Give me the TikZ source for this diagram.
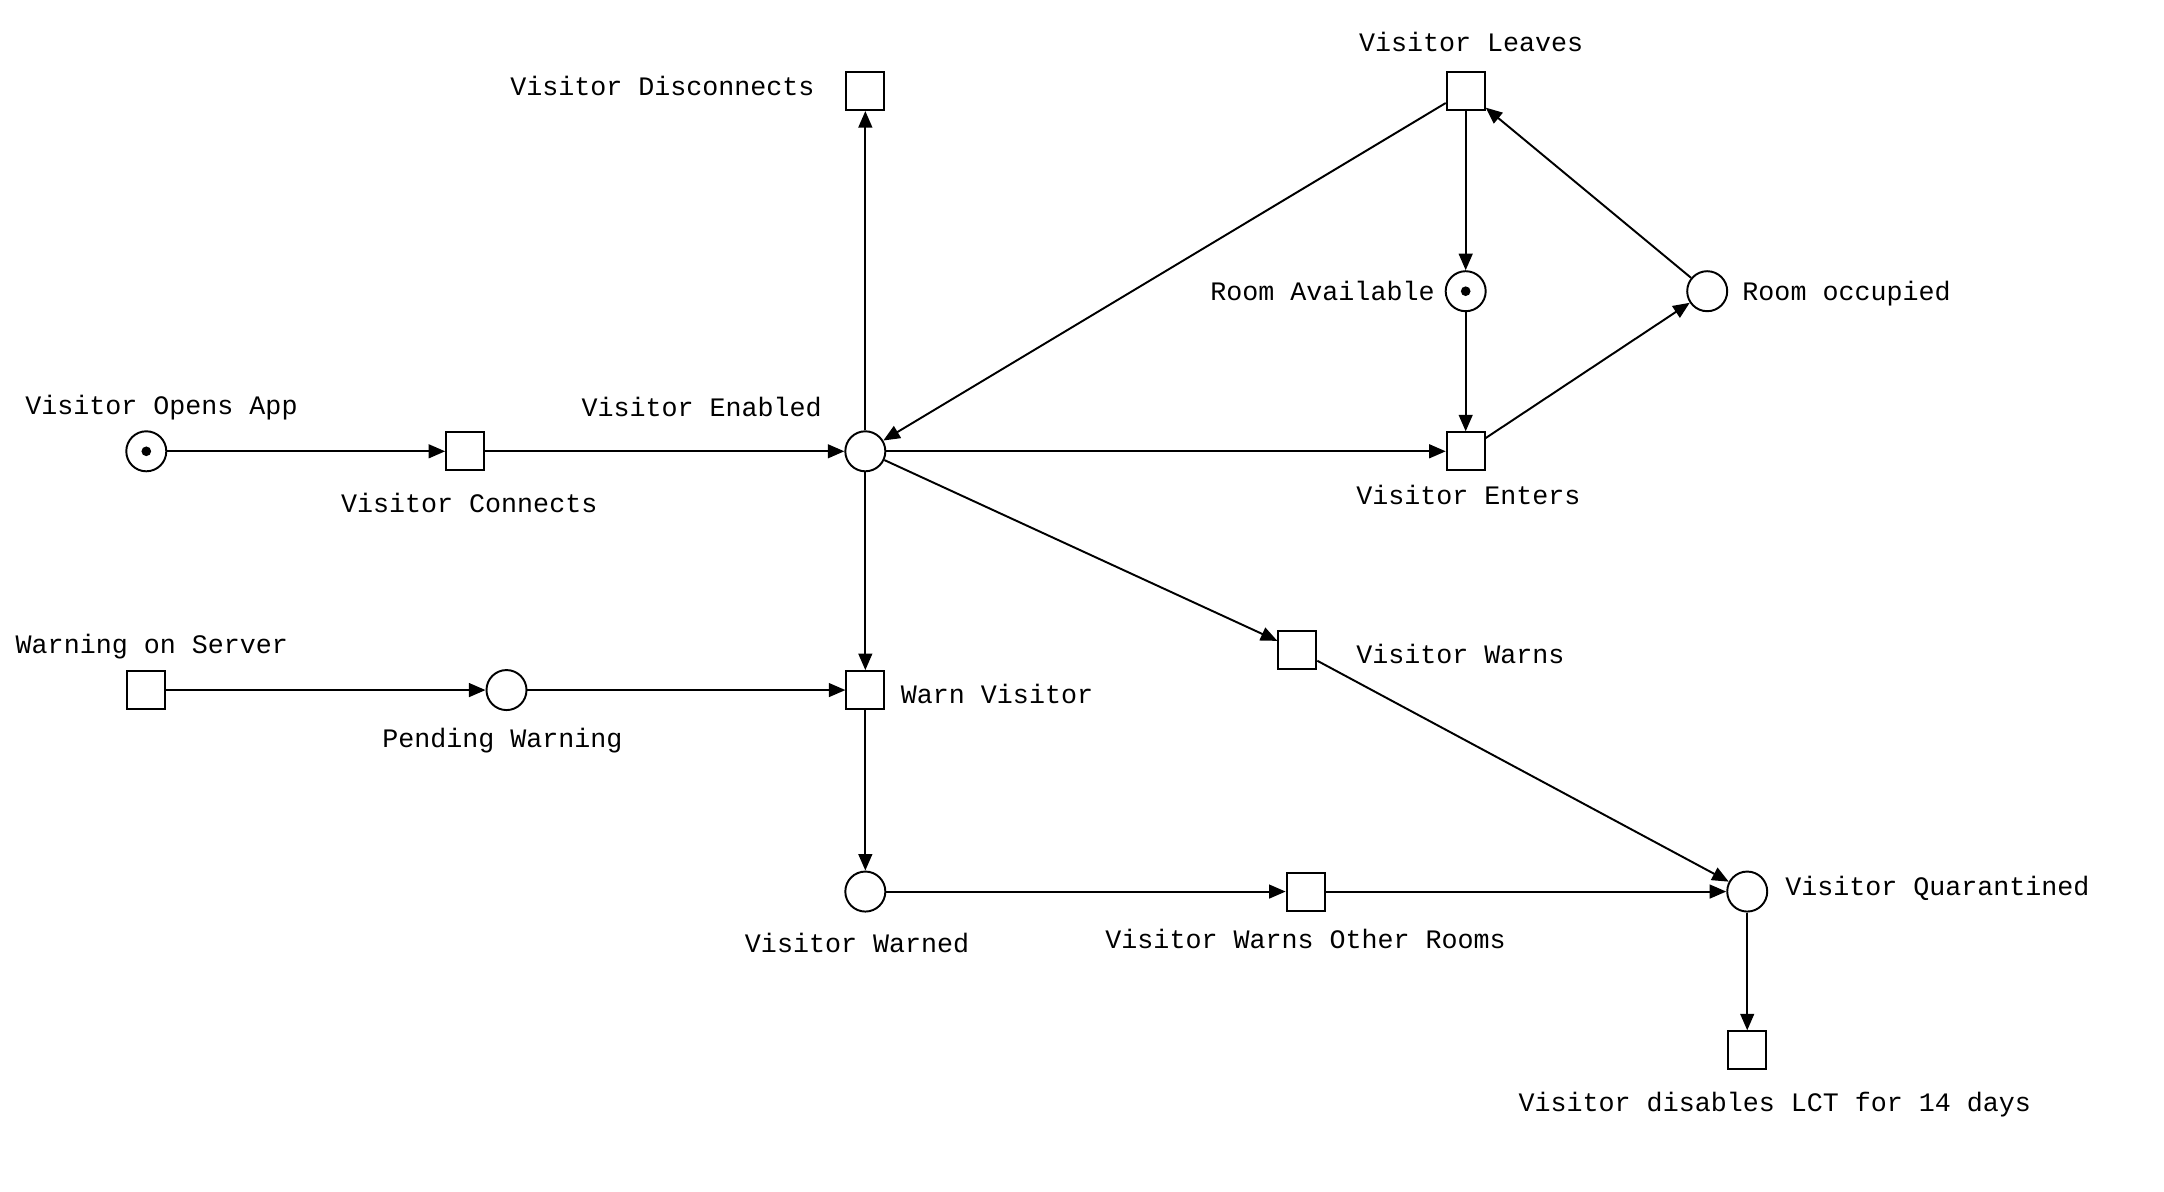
\documentclass[tikz,border=0pt]{standalone}
\usepackage{fontspec}
\setmonofont{Liberation Mono}
\usetikzlibrary{positioning, arrows.meta}

\begin{document}
\begin{tikzpicture}[
    place/.style={draw, circle, line width=0.8pt, minimum size=0.58cm, inner sep=0pt},
    token/.style={place, path picture={\fill (path picture bounding box.center) circle (0.07cm);}},
    trans/.style={draw, rectangle, line width=0.8pt, minimum size=0.55cm, inner sep=0pt},
    lbl/.style={font=\fontsize{11}{13}\selectfont\ttfamily, inner sep=0pt, text height=1.6ex, text depth=0.4ex},
    arr/.style={-{Triangle[length=2.4mm, width=2mm]}, line width=0.8pt}
]
\useasboundingbox (0,0) rectangle (31.36,-17.26);
% Places
\node[token] (opens)   at (2.12,-6.54)   {};
\node[place] (enabled) at (12.54,-6.54)  {};
\node[token] (roomav)  at (21.24,-4.22)  {};
\node[place] (roomocc) at (24.74,-4.22)  {};
\node[place] (pending) at (7.34,-10.00)  {};
\node[place] (warned)  at (12.54,-12.92) {};
\node[place] (quar)    at (25.32,-12.92) {};
% Transitions
\node[trans] (connects)    at (6.74,-6.54)   {};
\node[trans] (disconnects) at (12.54,-1.32)  {};
\node[trans] (leaves)      at (21.24,-1.32)  {};
\node[trans] (enters)      at (21.24,-6.54)  {};
\node[trans] (warns)       at (18.80,-9.42)  {};
\node[trans] (server)      at (2.12,-10.00)  {};
\node[trans] (warnvis)     at (12.54,-10.00) {};
\node[trans] (otherrooms)  at (18.92,-12.92) {};
\node[trans] (disables)    at (25.32,-15.22) {};
% Labels
\node[lbl, above=0.16cm of opens, xshift=0.22cm]          {Visitor Opens App};
\node[lbl, below=0.35cm of connects, xshift=0.06cm]       {Visitor Connects};
\node[lbl, above left=0.22cm and 0.41cm of enabled]       {Visitor Enabled};
\node[lbl, left=0.44cm of disconnects, yshift=0.02cm]     {Visitor Disconnects};
\node[lbl, above=0.21cm of leaves, xshift=0.08cm]         {Visitor Leaves};
\node[lbl, left=0.14cm of roomav, yshift=-0.05cm]         {Room Available};
\node[lbl, right=0.2cm of roomocc, yshift=-0.05cm]        {Room occupied};
\node[lbl, below=0.23cm of enters, xshift=0.04cm]         {Visitor Enters};
\node[lbl, right=0.56cm of warns, yshift=-0.1cm]          {Visitor Warns};
\node[lbl, above=0.17cm of server, xshift=0.08cm]         {Warning on Server};
\node[lbl, below=0.28cm of pending, xshift=-0.06cm]       {Pending Warning};
\node[lbl, right=0.22cm of warnvis, yshift=-0.1cm]        {Warn Visitor};
\node[lbl, below=0.33cm of warned, xshift=-0.12cm]        {Visitor Warned};
\node[lbl, below=0.29cm of otherrooms]                    {Visitor Warns Other Rooms};
\node[lbl, right=0.24cm of quar, yshift=0.04cm]           {Visitor Quarantined};
\node[lbl, below=0.35cm of disables, xshift=0.4cm]        {Visitor disables LCT for 14 days};
% Arcs
\draw[arr] (opens) -- (connects);
\draw[arr] (connects) -- (enabled);
\draw[arr] (enabled) -- (disconnects);
\draw[arr] (enabled) -- (enters);
\draw[arr] (enabled) -- (warnvis);
\draw[arr] (enabled) -- (warns);
\draw[arr] (leaves) -- (enabled);
\draw[arr] (leaves) -- (roomav);
\draw[arr] (roomav) -- (enters);
\draw[arr] (enters) -- (roomocc);
\draw[arr] (roomocc) -- (leaves);
\draw[arr] (server) -- (pending);
\draw[arr] (pending) -- (warnvis);
\draw[arr] (warnvis) -- (warned);
\draw[arr] (warned) -- (otherrooms);
\draw[arr] (otherrooms) -- (quar);
\draw[arr] (warns) -- (quar);
\draw[arr] (quar) -- (disables);
\end{tikzpicture}
\end{document}
